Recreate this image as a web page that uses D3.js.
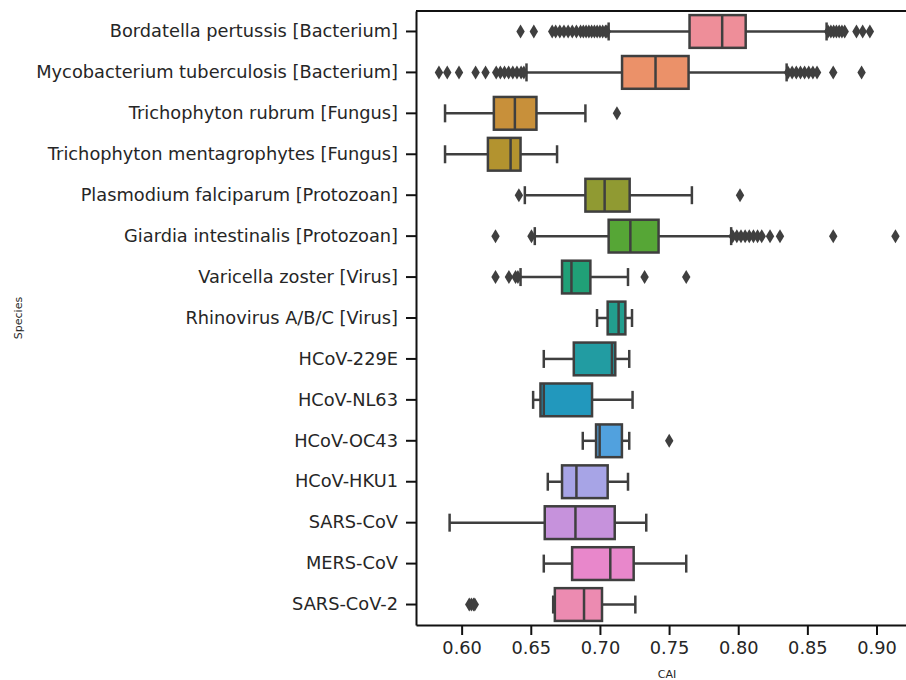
<!DOCTYPE html>
<html>
<head>
<meta charset="utf-8">
<script src="https://cdn.jsdelivr.net/npm/d3@7"></script>
<style>
  body { margin: 0; background: #fff; }
  svg { font-family: "DejaVu Sans", sans-serif; display: block; }
  .axis text { font-family: "DejaVu Sans", sans-serif; font-size: 17.8px; fill: #262626; }
  .axis line, .axis path { stroke: #111; stroke-width: 2; }
  .spine { stroke: #111; stroke-width: 2; }
  .axis-label { font-size: 11px; fill: #262626; }
</style>
</head>
<body>
<svg width="906" height="680"></svg>
<script>
const species = [
  "Bordatella pertussis [Bacterium]",
  "Mycobacterium tuberculosis [Bacterium]",
  "Trichophyton rubrum [Fungus]",
  "Trichophyton mentagrophytes [Fungus]",
  "Plasmodium falciparum [Protozoan]",
  "Giardia intestinalis [Protozoan]",
  "Varicella zoster [Virus]",
  "Rhinovirus A/B/C [Virus]",
  "HCoV-229E",
  "HCoV-NL63",
  "HCoV-OC43",
  "HCoV-HKU1",
  "SARS-CoV",
  "MERS-CoV",
  "SARS-CoV-2"
]

// box stats
const whiskerLow  = [0.7063, 0.6469, 0.5880, 0.5880, 0.6457, 0.6529, 0.6426, 0.6979, 0.6594, 0.6517, 0.6876, 0.6623, 0.5913, 0.6594, 0.6662]
const q1          = [0.7648, 0.7160, 0.6233, 0.6190, 0.6895, 0.7063, 0.6726, 0.7056, 0.6811, 0.6570, 0.6972, 0.6726, 0.6601, 0.6799, 0.6674]
const median      = [0.7884, 0.7402, 0.6385, 0.6354, 0.7034, 0.7220, 0.6794, 0.7135, 0.7087, 0.6594, 0.6998, 0.6830, 0.6823, 0.7075, 0.6885]
const q3          = [0.8054, 0.7641, 0.6541, 0.6426, 0.7215, 0.7424, 0.6931, 0.7184, 0.7111, 0.6943, 0.7159, 0.7056, 0.7107, 0.7244, 0.7015]
const whiskerHigh = [0.8639, 0.8350, 0.6895, 0.6690, 0.7665, 0.7949, 0.7203, 0.7232, 0.7212, 0.7236, 0.7212, 0.7203, 0.7335, 0.7624, 0.7256]

const outliers = [
  [0.6426, 0.6522, 0.6655, 0.668, 0.671, 0.674, 0.677, 0.680, 0.683, 0.686, 0.688, 0.690, 0.692, 0.694, 0.696, 0.698, 0.700, 0.702, 0.704, 0.705,
   0.865, 0.867, 0.869, 0.871, 0.873, 0.875, 0.877, 0.8855, 0.890, 0.8952],
  [0.5836, 0.5896, 0.5981, 0.6101, 0.6173, 0.625, 0.628, 0.631, 0.634, 0.637, 0.640, 0.643, 0.645,
   0.836, 0.839, 0.842, 0.845, 0.848, 0.851, 0.854, 0.857, 0.8687, 0.8892],
  [0.7123],
  [],
  [0.6414, 0.8013],
  [0.6245, 0.6505, 0.796, 0.799, 0.802, 0.805, 0.808, 0.811, 0.814, 0.817, 0.823, 0.8302, 0.8687, 0.9137],
  [0.6245, 0.6342, 0.639, 0.6407, 0.7323, 0.7624],
  [],
  [],
  [],
  [0.7501],
  [],
  [],
  [],
  [0.6055, 0.607, 0.6085, 0.6095]
]

const colors = ['#ee8e99', '#eb9169', '#c8903a', '#b3932f', '#909a32', '#56a636', '#20a077', '#229e8e',
                '#229ca2', '#2298bd', '#51a1de', '#a7a4e6', '#c692dc', '#e887cb', '#ec8bb1']

const xTicks = [0.60, 0.65, 0.70, 0.75, 0.80, 0.85, 0.90]

const mLeft = 416, mRight = 918, mTop = 11, mBottom = 625
const lineColor = '#3f3f3f'

const x = d3.scaleLinear().domain([0.567, 0.930]).range([mLeft, mRight])
const y = d3.scaleBand().domain(species).range([mTop, mBottom])

const boxH = y.bandwidth() * 0.8
const capH = boxH * 0.55

const svg = d3.select("svg")

const rows = svg.selectAll("g.row")
    .data(species)
    .enter()
    .append("g")
    .attr("class", "row")
    .attr("transform", d => `translate(0,${y(d) + y.bandwidth() / 2})`)

// whiskers
rows.append("line")
    .attr("x1", (d, i) => x(whiskerLow[i]))
    .attr("x2", (d, i) => x(q1[i]))
    .attr("stroke", lineColor).attr("stroke-width", 2.5)
rows.append("line")
    .attr("x1", (d, i) => x(q3[i]))
    .attr("x2", (d, i) => x(whiskerHigh[i]))
    .attr("stroke", lineColor).attr("stroke-width", 2.5)

// caps
rows.append("line")
    .attr("x1", (d, i) => x(whiskerLow[i]))
    .attr("x2", (d, i) => x(whiskerLow[i]))
    .attr("y1", -capH / 2).attr("y2", capH / 2)
    .attr("stroke", lineColor).attr("stroke-width", 2.5)
rows.append("line")
    .attr("x1", (d, i) => x(whiskerHigh[i]))
    .attr("x2", (d, i) => x(whiskerHigh[i]))
    .attr("y1", -capH / 2).attr("y2", capH / 2)
    .attr("stroke", lineColor).attr("stroke-width", 2.5)

// boxes
rows.append("rect")
    .attr("x", (d, i) => x(q1[i]))
    .attr("width", (d, i) => x(q3[i]) - x(q1[i]))
    .attr("y", -boxH / 2)
    .attr("height", boxH)
    .attr("fill", (d, i) => colors[i])
    .attr("stroke", lineColor).attr("stroke-width", 2.5)

// medians
rows.append("line")
    .attr("x1", (d, i) => x(median[i]))
    .attr("x2", (d, i) => x(median[i]))
    .attr("y1", -boxH / 2).attr("y2", boxH / 2)
    .attr("stroke", lineColor).attr("stroke-width", 2.5)

// fliers (thin diamonds)
rows.each(function (d, i) {
    d3.select(this).selectAll("path.flier")
        .data(outliers[i])
        .enter()
        .append("path")
        .attr("class", "flier")
        .attr("d", "M0,-7L4.2,0L0,7L-4.2,0Z")
        .attr("transform", v => `translate(${x(v)},0)`)
        .attr("fill", lineColor)
})

// axes
svg.append("g")
    .attr("class", "axis")
    .attr("transform", `translate(0,${mBottom})`)
    .call(d3.axisBottom(x).tickValues(xTicks).tickFormat(d3.format(".2f")).tickSize(10).tickPadding(6).tickSizeOuter(0))

svg.append("g")
    .attr("class", "axis")
    .attr("transform", `translate(${mLeft},0)`)
    .call(d3.axisLeft(y).tickSize(10).tickPadding(8).tickSizeOuter(0))

svg.append("line")
    .attr("class", "spine")
    .attr("x1", mLeft).attr("x2", mRight)
    .attr("y1", mTop).attr("y2", mTop)

svg.append("text")
    .attr("class", "axis-label")
    .attr("x", (mLeft + mRight) / 2)
    .attr("y", 678)
    .attr("text-anchor", "middle")
    .text("CAI")

svg.append("text")
    .attr("class", "axis-label")
    .attr("transform", `translate(22,${(mTop + mBottom) / 2}) rotate(-90)`)
    .attr("text-anchor", "middle")
    .text("Species")
</script>
</body>
</html>
